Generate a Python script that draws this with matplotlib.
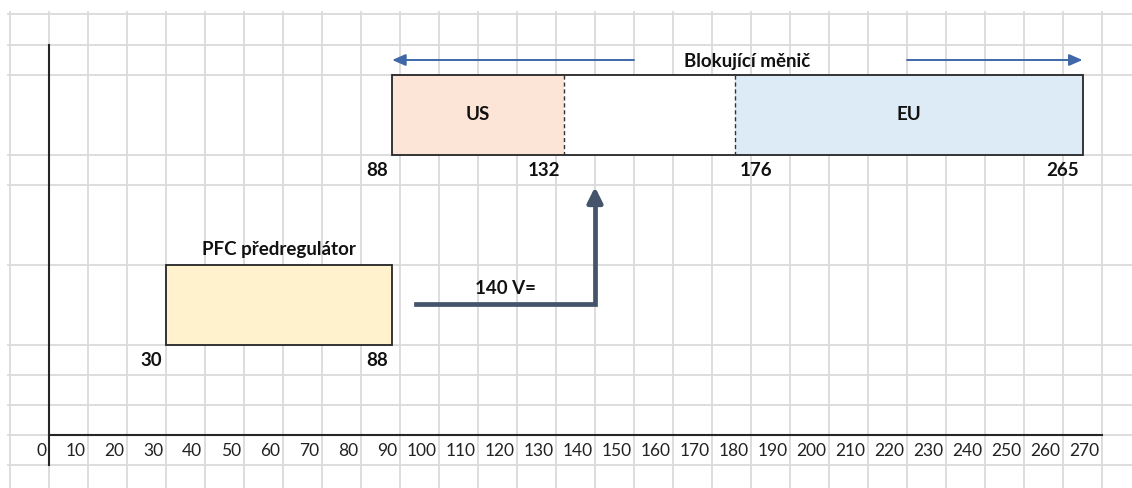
import matplotlib.pyplot as plt
import matplotlib.patches as patches

# input voltage ranges (V)
pfc_range = (30, 88)
blocking_range = (88, 265)
us_range = (88, 132)
eu_range = (176, 265)
dc_bus = 140
tick_values = list(range(0, 280, 10))

# sheet layout (pixel rows, top-down)
row_lines = [14, 45, 75, 155, 185, 265, 345, 375, 405, 435, 465]
PX_PER_UNIT = 3.9
X0_PX = 49

W, H = 1132, 488


def v2px(px):
    return (px - X0_PX) / PX_PER_UNIT


plt.rcParams['font.family'] = ['Lato', 'DejaVu Sans']

fig = plt.figure(figsize=(W / 100, H / 100), dpi=100)
ax = fig.add_axes([0, 0, 1, 1])
ax.set_xlim(v2px(0), v2px(W))
ax.set_ylim(H, 0)
ax.axis('off')

grid_c = '#dadada'
# spreadsheet grid
for v in range(-10, 280, 10):
    ax.plot([v, v], [12, H], color=grid_c, lw=1.3, zorder=0)
for y in row_lines:
    ax.plot([v2px(8), v2px(W)], [y, y], color=grid_c, lw=1.3, zorder=0)

# axes lines
ax.plot([0, 0], [45, 465], color='#262626', lw=1.5, zorder=2)
ax.plot([0, tick_values[-1]], [435, 435], color='#262626', lw=1.5, zorder=2)

for v in tick_values:
    ax.text(v - 0.7, 451, str(v), ha='right', va='center', fontsize=12.5, color='#222222')

bold = dict(fontsize=13.5, fontweight='bold', color='#111111')

# blocking converter box
top, bot = 75, 155
ax.add_patch(patches.Rectangle((us_range[0], top), us_range[1] - us_range[0], bot - top,
                               facecolor='#fce4d6', edgecolor='none', zorder=1))
ax.add_patch(patches.Rectangle((us_range[1], top), eu_range[0] - us_range[1], bot - top,
                               facecolor='white', edgecolor='none', zorder=1))
ax.add_patch(patches.Rectangle((eu_range[0], top), eu_range[1] - eu_range[0], bot - top,
                               facecolor='#ddebf7', edgecolor='none', zorder=1))
ax.add_patch(patches.Rectangle((blocking_range[0], top), blocking_range[1] - blocking_range[0], bot - top,
                               facecolor='none', edgecolor='#262626', lw=1.3, zorder=3))
for v in (us_range[1], eu_range[0]):
    ax.plot([v, v], [top, bot], color='#333333', lw=1.0, ls=(0, (3, 2)), zorder=3)

ax.text(sum(us_range) / 2, 115, 'US', ha='center', va='center', **bold)
ax.text(sum(eu_range) / 2, 115, 'EU', ha='center', va='center', **bold)

ax.text(blocking_range[0] - 1, 171, str(blocking_range[0]), ha='right', va='center', **bold)
ax.text(us_range[1] - 1, 171, str(us_range[1]), ha='right', va='center', **bold)
ax.text(eu_range[0] + 1, 171, str(eu_range[0]), ha='left', va='center', **bold)
ax.text(eu_range[1] - 1, 171, str(eu_range[1]), ha='right', va='center', **bold)

# span arrows with caption
ax.text(179, 61, 'Blokující měnič', ha='center', va='center', **bold)
arrow_c = '#4068a8'
for tail, tip in ((150, blocking_range[0]), (220, blocking_range[1])):
    ax.annotate('', xy=(tip, 60), xytext=(tail, 60),
                arrowprops=dict(arrowstyle='-|>,head_length=0.8,head_width=0.35',
                                color=arrow_c, lw=1.4, shrinkA=0, shrinkB=0))

# PFC pre-regulator box
ptop, pbot = 265, 345
ax.add_patch(patches.Rectangle((pfc_range[0], ptop), pfc_range[1] - pfc_range[0], pbot - ptop,
                               facecolor='#fff2cc', edgecolor='#262626', lw=1.3, zorder=3))
ax.text(sum(pfc_range) / 2, 250, 'PFC předregulátor', ha='center', va='center', **bold)
ax.text(pfc_range[0] - 1, 361, str(pfc_range[0]), ha='right', va='center', **bold)
ax.text(pfc_range[1] - 1, 361, str(pfc_range[1]), ha='right', va='center', **bold)

# DC bus arrow into the blocking converter
bus_c = '#44546a'
ax.plot([pfc_range[1] + 6, dc_bus, dc_bus], [304, 304, 200], color=bus_c, lw=3.4,
        solid_joinstyle='miter', zorder=3)
ax.annotate('', xy=(dc_bus, 187), xytext=(dc_bus, 205),
            arrowprops=dict(arrowstyle='-|>,head_length=0.9,head_width=0.45',
                            color=bus_c, lw=3.4, shrinkA=0, shrinkB=0), zorder=3)
ax.text(117, 288, f'{dc_bus} V=', ha='center', va='center', **bold)

fig.savefig('out.png', dpi=100)
